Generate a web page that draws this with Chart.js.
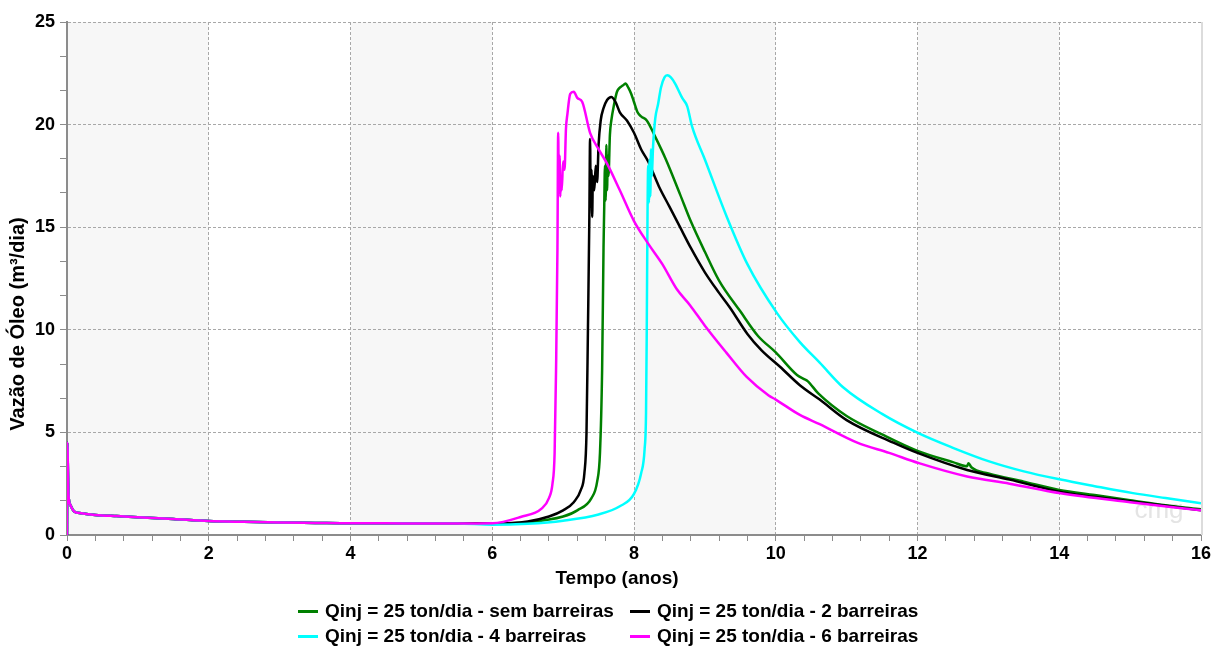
<!DOCTYPE html>
<html>
<head>
<meta charset="utf-8">
<script src="https://cdn.jsdelivr.net/npm/chart.js@4.4.1/dist/chart.umd.min.js"></script>
<style>
  html, body { margin: 0; padding: 0; background: #fff; }
  #wrap { position: relative; width: 1216px; height: 647px; }
  #legenda { position: absolute; left: 0; top: 0; width: 1216px; height: 647px; pointer-events: none;
    font: bold 19px "Liberation Sans", Arial, sans-serif; color: #000; }
  .item { position: absolute; height: 24px; display: flex; align-items: center; white-space: nowrap; }
  .item i { display: inline-block; width: 20px; height: 3px; margin-right: 7px; }
</style>
</head>
<body>
<div id="wrap">
  <canvas id="grafico" width="1216" height="647"></canvas>
  <div id="legenda"></div>
</div>
<script>
// trecho inicial comum (0 a 6 anos)
const tempoInicial = [0, 0.004, 0.02, 0.05, 0.1, 0.2, 0.4, 0.7, 1, 1.5, 2, 2.5, 3, 3.5, 4, 4.5, 5, 5.5];
const vazaoInicial = [0, 4.5, 2.0, 1.45, 1.15, 1.06, 0.98, 0.92, 0.87, 0.78, 0.68, 0.64, 0.61, 0.59, 0.57, 0.57, 0.56, 0.56];

const tempoSem = [6, 6.5, 7.0, 7.2, 7.4, 7.48, 7.52, 7.55, 7.57, 7.58, 7.59, 7.6, 7.61, 7.62, 7.63, 7.64, 7.66, 7.68, 7.72, 7.76, 7.8, 7.84, 7.88, 7.92, 7.96, 8.0, 8.05, 8.1, 8.18, 8.3, 8.45, 8.65, 8.8, 9.0, 9.2, 9.5, 9.75, 10.0, 10.3, 10.4, 10.45, 10.6, 11.0, 11.5, 12.0, 12.5, 12.7, 12.72, 12.76, 13, 13.5, 14, 14.5, 15, 15.5, 16];
const vazaoSem = [0.56, 0.62, 0.9, 1.2, 1.8, 2.6, 4, 8, 14, 16, 18, 16.3, 19, 16.8, 18.5, 17.5, 19.5, 20.2, 21.0, 21.6, 21.8, 21.9, 22.0, 21.8, 21.5, 21.1, 20.6, 20.4, 20.2, 19.4, 18.3, 16.6, 15.3, 13.8, 12.4, 10.9, 9.7, 8.9, 7.8, 7.6, 7.5, 6.9, 5.8, 4.9, 4.1, 3.55, 3.35, 3.5, 3.3, 3.0, 2.6, 2.2, 1.95, 1.7, 1.45, 1.25];

const tempoDuas = [6, 6.5, 6.8, 7.0, 7.15, 7.25, 7.3, 7.33, 7.35, 7.37, 7.38, 7.39, 7.40, 7.41, 7.42, 7.44, 7.46, 7.48, 7.5, 7.53, 7.57, 7.62, 7.68, 7.74, 7.8, 7.9, 8.0, 8.1, 8.2, 8.35, 8.5, 8.65, 8.8, 9.0, 9.2, 9.35, 9.6, 9.8, 10.06, 10.34, 10.62, 11.0, 11.66, 12.0, 12.7, 13.3, 14.02, 15, 16];
const vazaoDuas = [0.56, 0.66, 0.9, 1.2, 1.6, 2.2, 3.0, 5, 10, 15.5, 19.3, 16, 17.8, 15.5, 17.5, 16.8, 18.0, 17.2, 19.0, 20.2, 20.8, 21.2, 21.35, 21.1, 20.6, 20.2, 19.6, 18.8, 18.2, 17.0, 16.0, 15.0, 14.0, 12.8, 11.8, 11.1, 9.8, 9.0, 8.2, 7.3, 6.6, 5.6, 4.5, 4.0, 3.17, 2.7, 2.1, 1.65, 1.2];

const tempoQuatro = [6, 6.5, 7.0, 7.5, 7.8, 8.0, 8.1, 8.15, 8.17, 8.18, 8.19, 8.2, 8.21, 8.22, 8.23, 8.24, 8.25, 8.27, 8.3, 8.34, 8.38, 8.43, 8.47, 8.52, 8.58, 8.68, 8.75, 8.82, 9.0, 9.31, 9.6, 10.02, 10.34, 10.62, 10.95, 11.5, 12.02, 12.5, 13.0, 13.5, 14.02, 14.5, 15.04, 15.5, 16];
const vazaoQuatro = [0.5, 0.55, 0.7, 1.0, 1.4, 2.0, 3.0, 4.2, 6, 10, 15.3, 18, 16.2, 18.3, 16.5, 18.8, 17.5, 19, 20.3, 21.0, 21.8, 22.3, 22.4, 22.3, 22.0, 21.3, 20.9, 19.9, 18.3, 15.5, 13.2, 10.8, 9.4, 8.4, 7.2, 5.9, 4.95, 4.25, 3.6, 3.1, 2.7, 2.38, 2.04, 1.8, 1.55];

const tempoSeis = [6, 6.4, 6.7, 6.8, 6.85, 6.88, 6.9, 6.92, 6.93, 6.94, 6.95, 6.96, 6.97, 6.98, 7.0, 7.02, 7.04, 7.06, 7.1, 7.15, 7.2, 7.27, 7.38, 7.5, 7.62, 7.8, 8.0, 8.2, 8.4, 8.6, 8.79, 9.0, 9.3, 9.59, 9.9, 10.0, 10.34, 10.62, 11.15, 11.6, 12.02, 12.7, 13.3, 14.02, 15, 16];
const vazaoSeis = [0.57, 0.88, 1.3, 1.8, 2.5, 4, 8, 14, 19.6, 17, 18.5, 16.5, 17.5, 16.8, 18.2, 17.8, 19.8, 20.5, 21.5, 21.6, 21.3, 21.1, 19.6, 18.8, 18.1, 16.8, 15.3, 14.2, 13.2, 12.0, 11.2, 10.2, 8.9, 7.7, 6.8, 6.6, 5.85, 5.4, 4.5, 4.0, 3.5, 2.85, 2.5, 2.03, 1.6, 1.2];

const nomes = ["Qinj = 25 ton/dia - sem barreiras", "Qinj = 25 ton/dia - 2 barreiras",
               "Qinj = 25 ton/dia - 4 barreiras", "Qinj = 25 ton/dia - 6 barreiras"];
const cores = ["#008000", "#000000", "#00ffff", "#ff00ff"];
const ordem = [3, 2, 1, 0];

// faixas sombreadas do fundo (anos)
const faixasInicio = [0, 4, 8, 12];
const faixasFim = [2, 6, 10, 14];

const fonte = "'Liberation Sans', Arial, sans-serif";

function pontos(t, v) {
  const tt = tempoInicial.concat(t);
  const vv = vazaoInicial.concat(v);
  return tt.map((x, i) => ({ x: x, y: vv[i] }));
}

function ehMultiplo(v, passo) {
  const r = v / passo;
  return Math.abs(r - Math.round(r)) < 1e-6;
}

const faixasPlugin = {
  id: "faixas",
  beforeDraw(chart) {
    const { ctx, chartArea, scales } = chart;
    ctx.save();
    ctx.fillStyle = "#f7f7f7";
    faixasInicio.forEach((a, i) => {
      const x1 = scales.x.getPixelForValue(a);
      const x2 = scales.x.getPixelForValue(faixasFim[i]);
      ctx.fillRect(x1, chartArea.top, x2 - x1, chartArea.bottom - chartArea.top);
    });
    ctx.restore();
  },
  beforeDatasetsDraw(chart) {
    const { ctx, chartArea } = chart;
    ctx.save();
    ctx.fillStyle = "#e4e4e4";
    ctx.font = "26px " + fonte;
    ctx.textAlign = "center";
    ctx.textBaseline = "middle";
    ctx.fillText("cmg", chartArea.right - 42, chartArea.bottom - 24);
    ctx.restore();
  },
  afterDraw(chart) {
    const { ctx, chartArea } = chart;
    ctx.save();
    ctx.strokeStyle = "#dcdcdc";
    ctx.lineWidth = 2;
    ctx.beginPath();
    ctx.moveTo(chartArea.right + 1, chartArea.top);
    ctx.lineTo(chartArea.right + 1, chartArea.bottom);
    ctx.stroke();

    ctx.fillStyle = "#000";
    ctx.font = "bold 19px " + fonte;
    ctx.textAlign = "center";
    ctx.textBaseline = "middle";
    ctx.fillText("Tempo (anos)", 617, 579);
    ctx.translate(18, 324);
    ctx.rotate(-Math.PI / 2);
    ctx.font = "bold 20px " + fonte;
    ctx.fillText("Vazão de Óleo (m³/dia)", 0, 0);
    ctx.restore();
  }
};

const series = [
  [tempoSem, vazaoSem], [tempoDuas, vazaoDuas], [tempoQuatro, vazaoQuatro], [tempoSeis, vazaoSeis]
];

const chart = new Chart(document.getElementById("grafico").getContext("2d"), {
  type: "line",
  data: {
    datasets: series.map((s, i) => ({
      label: nomes[i],
      data: pontos(s[0], s[1]),
      borderColor: cores[i],
      backgroundColor: cores[i],
      borderWidth: 2.5,
      pointRadius: 0,
      cubicInterpolationMode: "monotone",
      order: ordem[i],
      fill: false
    }))
  },
  options: {
    responsive: false,
    animation: false,
    layout: { padding: { top: 22, right: 15, bottom: 0, left: 0 } },
    plugins: {
      legend: { display: false },
      tooltip: { enabled: false }
    },
    scales: {
      x: {
        type: "linear",
        min: 0,
        max: 16,
        ticks: {
          stepSize: 0.4,
          autoSkip: false,
          maxRotation: 0,
          padding: 2,
          color: "#000",
          font: { family: fonte, size: 18, weight: "bold" },
          callback: (v) => (ehMultiplo(v, 2) ? String(Math.round(v)) : "")
        },
        grid: {
          color: (c) => (c.tick && ehMultiplo(c.tick.value, 2) ? "#a8a8a8" : "rgba(0,0,0,0)"),
          tickColor: "#8c8c8c",
          tickLength: 6,
          lineWidth: 1
        },
        border: { color: "#8c8c8c", width: 2, dash: [3, 2] },
        afterFit: (s) => { s.height = 112; }
      },
      y: {
        type: "linear",
        min: 0,
        max: 25,
        ticks: {
          stepSize: 5 / 3,
          autoSkip: false,
          padding: 5,
          color: "#000",
          font: { family: fonte, size: 18, weight: "bold" },
          callback: (v) => (ehMultiplo(v, 5) ? String(Math.round(v)) : "")
        },
        grid: {
          color: (c) => (c.tick && ehMultiplo(c.tick.value, 5) ? "#a8a8a8" : "rgba(0,0,0,0)"),
          tickColor: "#8c8c8c",
          tickLength: 7,
          lineWidth: 1
        },
        border: { color: "#8c8c8c", width: 2, dash: [3, 2] },
        afterFit: (s) => { s.width = 67; }
      }
    }
  },
  plugins: [faixasPlugin]
});

// legenda em grade de duas colunas
const legenda = document.getElementById("legenda");
const colunas = [298, 630];
const linhas = [611, 636];
nomes.forEach((n, i) => {
  const d = document.createElement("div");
  d.className = "item";
  d.style.left = colunas[i % 2] + "px";
  d.style.top = (linhas[Math.floor(i / 2)] - 12) + "px";
  const amostra = document.createElement("i");
  amostra.style.background = cores[i];
  d.appendChild(amostra);
  d.appendChild(document.createTextNode(n));
  legenda.appendChild(d);
});
</script>
</body>
</html>
